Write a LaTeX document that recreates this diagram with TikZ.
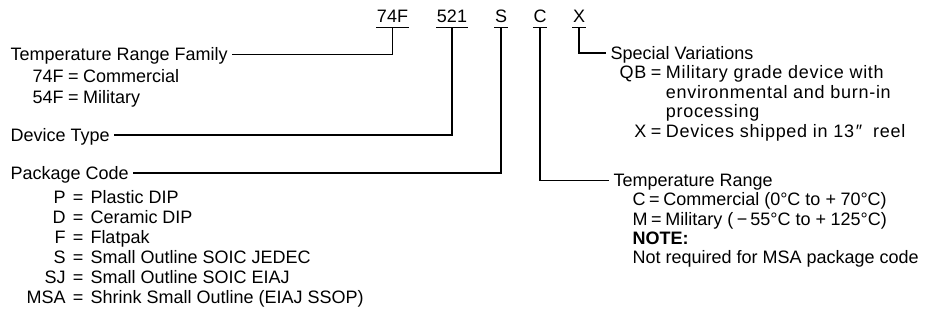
\documentclass[tikz,border=0pt]{standalone}
\usepackage{fontspec}
\setmainfont{Liberation Sans}
\usetikzlibrary{positioning,calc}

\begin{document}
\begin{tikzpicture}[x=0.75pt,y=-0.75pt,line width=0.9pt,
  font={\fontsize{13.5pt}{16pt}\selectfont},
  code/.style={inner xsep=0pt,inner ysep=3pt,text depth=0pt,anchor=base},
  head/.style={inner xsep=3pt,inner ysep=0pt,text height=9.7pt,text depth=0pt,anchor=base west},
  list/.style={inner sep=0pt,anchor=base west},
  rlist/.style={list,font={\fontsize{13.5pt}{14.6pt}\selectfont}}]
\useasboundingbox (0,0) rectangle (926,320);

\node[code] (n74) at (392.5,23) {74F};
\node[code] (n521) at (452,23) {521};
\node[code] (nS) at (501,23) {S};
\node[code] (nC) at (540,23) {C};
\node[code] (nX) at (579,23) {X};
\foreach \n in {n74,n521,nS,nC,nX}
  \draw[line width=0.75pt] (\n.south west) -- (\n.south east);

\node[head] (fam) at (6,61) {Temperature Range Family};
\node[list,font={\fontsize{13.5pt}{15.7pt}\selectfont}] (famlist) at (32,82.5)
  {\begin{tabular}[t]{@{}r@{\hspace{0.25em}=\hspace{0.25em}}l@{}}
  74F & Commercial\\ 54F & Military\end{tabular}};
\node[head] (dev) at (6,141.5) {Device Type};
\node[head] (pkg) at (6,179.5) {Package Code};
\node[list,font={\fontsize{13.5pt}{15pt}\selectfont}] (pkglist) at (26,204)
  {\begin{tabular}[t]{@{}r@{\hspace{0.4em}=\hspace{0.4em}}l@{}}
  P & Plastic DIP\\ D & Ceramic DIP\\ F & Flatpak\\
  S & Small Outline SOIC JEDEC\\ SJ & Small Outline SOIC EIAJ\\
  MSA & Shrink Small Outline (EIAJ SSOP)\end{tabular}};

\node[head] (spv) at (606,59.5) {Special Variations};
\node[rlist,font={\fontsize{13.5pt}{14.6pt}\selectfont\addfontfeatures{LetterSpace=4}}] (spvlist) at (619,79)
  {\begin{tabular}[t]{@{}r@{\hspace{0.25em}=\hspace{0.25em}}l@{}}
  QB & Military grade device with\\
  \multicolumn{1}{@{}r@{\hphantom{\hspace{0.25em}=\hspace{0.25em}}}}{} & environmental and burn-in\\
  \multicolumn{1}{@{}r@{\hphantom{\hspace{0.25em}=\hspace{0.25em}}}}{} & processing\\
  X & Devices shipped in 13\hspace{0.1em}″\hspace{0.6em}reel\end{tabular}};
\node[head] (trng) at (609,187) {Temperature Range};
\node[rlist,font={\fontsize{13.5pt}{14.5pt}\selectfont}] (trnglist) at (632,206)
  {\begin{tabular}[t]{@{}l@{}}
  C\hspace{0.2em}=\hspace{0.2em}Commercial (0°C to +\hspace{0.25em}70°C)\\
  M\hspace{0.2em}=\hspace{0.2em}Military (\hspace{0.2em}−\,55°C to +\hspace{0.25em}125°C)\\
  \textbf{NOTE:}\\
  Not required for MSA package code\end{tabular}};

\draw (fam.east) -| (n74.south);
\draw (dev.east) -| (n521.south);
\draw (pkg.east) -| (nS.south);
\draw (nC.south) |- (trng.west);
\draw (nX.south) |- (spv.west);
\end{tikzpicture}
\end{document}
